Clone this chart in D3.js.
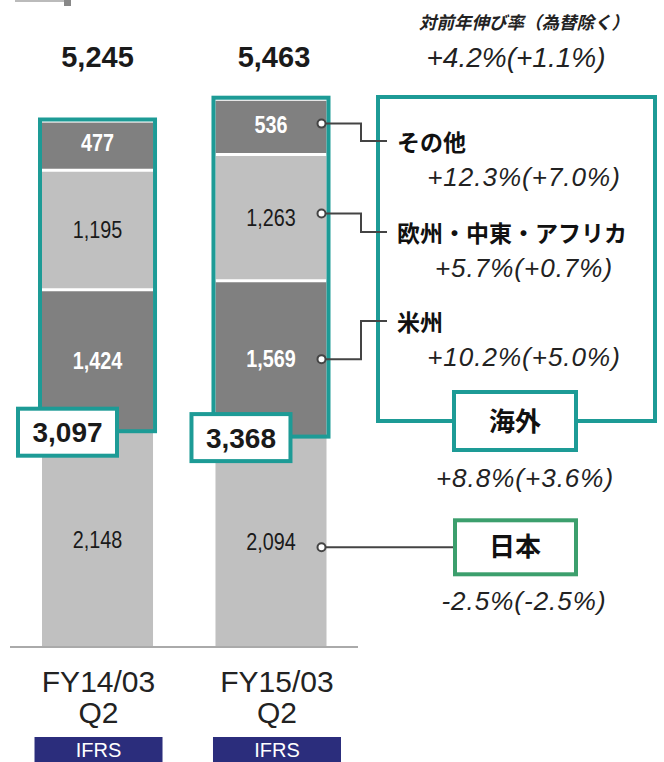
<!DOCTYPE html>
<html>
<head>
<meta charset="utf-8">
<script src="https://cdn.jsdelivr.net/npm/d3@7"></script>
<style>
  body { margin: 0; background: #fff; }
  svg { display: block; }
  text { font-family: "Liberation Sans", Arial, sans-serif; }
  .jp { font-family: "Noto Sans CJK JP", "Noto Sans", sans-serif; }
</style>
</head>
<body>
<svg id="chart" width="664" height="762"></svg>
<script>
// values
const periods = ["FY14/03", "FY15/03"];
const quarters = ["Q2", "Q2"];
const standards = ["IFRS", "IFRS"];
const regions = ["日本", "米州", "欧州・中東・アフリカ", "その他"];
const japan = [2148, 2094];
const americas = [1424, 1569];
const emea = [1195, 1263];
const others = [477, 536];
const overseas = [3097, 3368];
const totals = [5245, 5463];
const growthTitle = "対前年伸び率（為替除く）";
const growthTotal = "+4.2%(+1.1%)";
const growthRegion = ["-2.5%(-2.5%)", "+10.2%(+5.0%)", "+5.7%(+0.7%)", "+12.3%(+7.0%)"];
const overseasLabel = "海外";
const growthOverseas = "+8.8%(+3.6%)";

const teal = "#1d9b96", green = "#3c9f6d", dark = "#808080", light = "#c0c0c0";
const fill = { "日本": light, "米州": dark, "欧州・中東・アフリカ": light, "その他": dark };

const svg = d3.select("#chart");

const rows = periods.map(function(p, i) {
    return { period: p, "日本": japan[i], "米州": americas[i], "欧州・中東・アフリカ": emea[i], "その他": others[i] };
});
const series = d3.stack().keys(regions)(rows);

const x = d3.scaleBand().domain(periods).range([42, 326.5]).paddingInner(0.36);
const y = d3.scaleLinear().domain([0, 6000]).range([647, 47]);
const bw = x.bandwidth();

// little cropped fragment in the top-left corner
svg.append("line").attr("x1", 15).attr("x2", 65).attr("y1", 1).attr("y2", 1)
    .attr("stroke", "#bbb").attr("stroke-width", 2);
svg.append("rect").attr("x", 64).attr("y", 0).attr("width", 7).attr("height", 6).attr("fill", "#888");

// stacked segments
const layer = svg.selectAll(".layer").data(series).enter().append("g").attr("class", "layer");
layer.selectAll("rect")
    .data(function(s) { return s.map(function(d) { return { key: s.key, d: d }; }); })
    .enter().append("rect")
    .attr("x", function(e) { return x(e.d.data.period); })
    .attr("y", function(e) { return y(e.d[1]); })
    .attr("width", bw)
    .attr("height", function(e) { return y(e.d[0]) - y(e.d[1]); })
    .attr("fill", function(e) { return fill[e.key]; });

// white separators inside the overseas part
series.slice(2).forEach(function(s) {
    s.forEach(function(d) {
        svg.append("line")
            .attr("x1", x(d.data.period)).attr("x2", x(d.data.period) + bw)
            .attr("y1", y(d[0])).attr("y2", y(d[0]))
            .attr("stroke", "#fff").attr("stroke-width", 3);
    });
});

// segment value labels (narrow look)
series.forEach(function(s) {
    const onDark = fill[s.key] === dark;
    s.forEach(function(d) {
        const cx = x(d.data.period) + bw / 2,
              cy = (y(d[0]) + y(d[1])) / 2 - (s.key === "その他" ? 3 : 0);
        svg.append("text")
            .attr("transform", "translate(" + cx + "," + (cy + 8) + ") scale(0.86,1)")
            .attr("text-anchor", "middle")
            .attr("font-size", 23)
            .attr("font-weight", onDark ? "bold" : "normal")
            .attr("fill", onDark ? "#fff" : "#1a1a1a")
            .text(d3.format(",")(d[1] - d[0]));
    });
});

// teal frame round the overseas part
periods.forEach(function(p, i) {
    const top = y(totals[i]), bottom = y(japan[i]);
    svg.append("rect")
        .attr("x", x(p) - 2).attr("y", top - 3)
        .attr("width", bw + 4).attr("height", bottom - top + 2)
        .attr("fill", "none").attr("stroke", teal).attr("stroke-width", 4);
});

// overseas total boxes
periods.forEach(function(p, i) {
    const cy = y(japan[i]);
    svg.append("rect")
        .attr("x", x(p) - 24).attr("y", cy - 23.5)
        .attr("width", 99).attr("height", 47)
        .attr("fill", "#fff").attr("stroke", teal).attr("stroke-width", 4);
    svg.append("text")
        .attr("x", x(p) + 25.5).attr("y", cy + 10)
        .attr("text-anchor", "middle").attr("font-size", 28).attr("font-weight", "bold")
        .attr("fill", "#1a1a1a")
        .text(d3.format(",")(overseas[i]));
});

// totals on top
svg.selectAll(".total").data(totals).enter().append("text")
    .attr("class", "total")
    .attr("x", function(d, i) { return x(periods[i]) + bw / 2 + i * 3; })
    .attr("y", 67)
    .attr("text-anchor", "middle").attr("font-size", 29).attr("font-weight", "bold")
    .attr("fill", "#1a1a1a")
    .text(function(d) { return d3.format(",")(d); });

// baseline
svg.append("line").attr("x1", 10).attr("x2", 358).attr("y1", 647).attr("y2", 647)
    .attr("stroke", "#aaa").attr("stroke-width", 2);

// category labels
periods.forEach(function(p, i) {
    const cx = x(p) + bw / 2 + 1 + i * 5;
    svg.append("text").attr("x", cx).attr("y", 692).attr("text-anchor", "middle")
        .attr("font-size", 30).attr("fill", "#222").text(p);
    svg.append("text").attr("x", cx).attr("y", 723).attr("text-anchor", "middle")
        .attr("font-size", 30).attr("fill", "#222").text(quarters[i]);
    svg.append("rect").attr("x", cx - 64).attr("y", 737).attr("width", 128).attr("height", 30)
        .attr("fill", "#2b2d7c");
    svg.append("text").attr("x", cx).attr("y", 757).attr("text-anchor", "middle")
        .attr("font-size", 20).attr("fill", "#fff").text(standards[i]);
});

// growth header
svg.append("text").attr("class", "jp")
    .attr("x", 524).attr("y", 29).attr("text-anchor", "middle")
    .attr("font-size", 17.5).attr("font-weight", "bold").attr("font-style", "italic")
    .attr("fill", "#222").text(growthTitle);
svg.append("text")
    .attr("x", 516).attr("y", 67).attr("text-anchor", "middle")
    .attr("font-size", 28).attr("font-style", "italic").attr("fill", "#222")
    .text(growthTotal);

// overseas legend frame
svg.append("rect").attr("x", 378).attr("y", 97).attr("width", 277).attr("height", 324)
    .attr("fill", "none").attr("stroke", teal).attr("stroke-width", 4);

// legend rows for the regions, connected to the latest bar
const last = periods.length - 1;
const dotX = x(periods[last]) + bw - 5;
const rowY = { "米州": 321, "欧州・中東・アフリカ": 232, "その他": 141 };
series.forEach(function(s, k) {
    const d = s[last];
    let dy = (y(d[0]) + y(d[1])) / 2;
    if (s.key === "日本") {
        dy += 5;
        svg.append("line").attr("x1", dotX).attr("x2", 455).attr("y1", dy).attr("y2", dy)
            .attr("stroke", "#444").attr("stroke-width", 2);
        svg.append("rect").attr("x", 455).attr("y", dy - 27).attr("width", 121).attr("height", 54)
            .attr("fill", "#fff").attr("stroke", green).attr("stroke-width", 4);
        svg.append("text").attr("class", "jp")
            .attr("x", 515).attr("y", dy + 9).attr("text-anchor", "middle")
            .attr("font-size", 26).attr("font-weight", "bold").attr("fill", "#111")
            .text(s.key);
        svg.append("text")
            .attr("x", 524).attr("y", dy + 63).attr("text-anchor", "middle")
            .attr("font-size", 26).attr("font-style", "italic").attr("letter-spacing", 1)
            .attr("fill", "#222").text(growthRegion[k]);
    } else {
        if (s.key === "その他" || s.key === "欧州・中東・アフリカ") dy -= 4;
        const ry = rowY[s.key];
        svg.append("path")
            .attr("d", "M" + dotX + "," + dy + "H361V" + ry + "H387")
            .attr("fill", "none").attr("stroke", "#444").attr("stroke-width", 2);
        svg.append("text").attr("class", "jp")
            .attr("x", 397).attr("y", ry + 10)
            .attr("font-size", 23).attr("font-weight", "bold").attr("fill", "#111")
            .text(s.key);
        svg.append("text")
            .attr("x", 524).attr("y", ry + 45).attr("text-anchor", "middle")
            .attr("font-size", 26).attr("font-style", "italic").attr("letter-spacing", 1)
            .attr("fill", "#222").text(growthRegion[k]);
    }
    svg.append("circle").attr("cx", dotX).attr("cy", dy).attr("r", 4)
        .attr("fill", "#fff").attr("stroke", "#444").attr("stroke-width", 2);
});

// overseas label box sitting on the legend frame
svg.append("rect").attr("x", 454).attr("y", 392).attr("width", 122).attr("height", 58)
    .attr("fill", "#fff").attr("stroke", teal).attr("stroke-width", 4);
svg.append("text").attr("class", "jp")
    .attr("x", 515).attr("y", 431).attr("text-anchor", "middle")
    .attr("font-size", 26).attr("font-weight", "bold").attr("fill", "#111")
    .text(overseasLabel);
svg.append("text")
    .attr("x", 525).attr("y", 487).attr("text-anchor", "middle")
    .attr("font-size", 26).attr("font-style", "italic").attr("letter-spacing", 1)
    .attr("fill", "#222").text(growthOverseas);
</script>
</body>
</html>
